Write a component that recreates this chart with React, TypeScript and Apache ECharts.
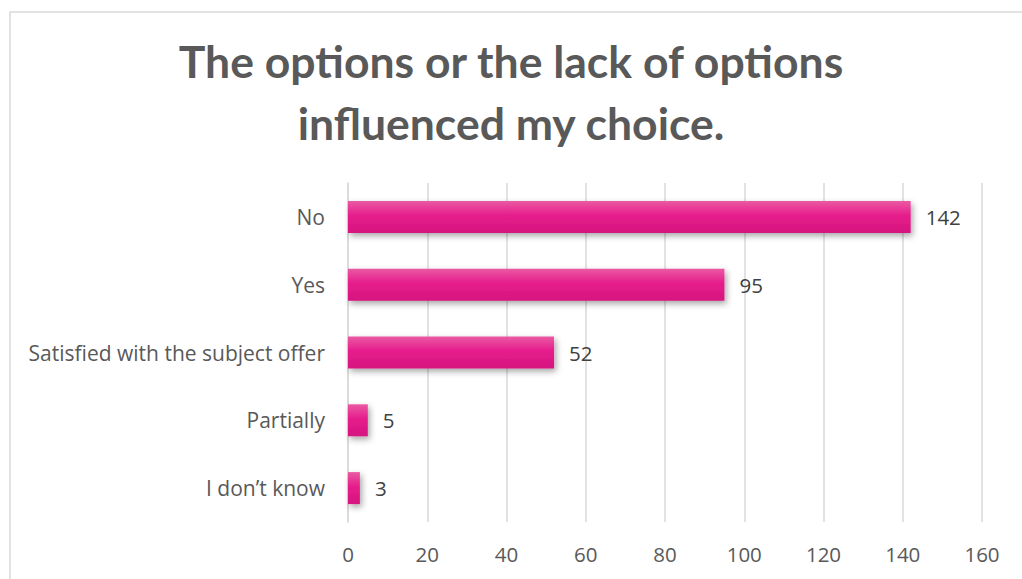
import React, { useEffect, useRef } from "react";
import * as echarts from "echarts";

const titleLines = ["The options or the lack of options", "influenced my choice."];
const categories = ["No", "Yes", "Satisfied with the subject offer", "Partially", "I don\u2019t know"];
const values = [142, 95, 52, 5, 3];
const axisMin = 0;
const axisMax = 160;
const axisInterval = 20;

const bodyFont = "'Open Sans', Lato, sans-serif";

export default function App() {
  const ref = useRef<HTMLDivElement>(null);
  useEffect(() => {
    if (!ref.current) return;
    const chart = echarts.init(ref.current, null, { renderer: "svg" });
    chart.setOption({
      animation: false,
      backgroundColor: "#ffffff",
      title: {
        text: titleLines.join("\n"),
        left: "center",
        top: 24,
        textStyle: {
          fontFamily: "Lato, sans-serif",
          fontWeight: "bold",
          fontSize: 44.5,
          lineHeight: 62,
          color: "#595959",
        },
      },
      graphic: [
        {
          type: "rect",
          shape: { x: 10, y: 12, width: 1040, height: 620 },
          style: { fill: "none", stroke: "#d9d9d9", lineWidth: 1.5 },
          silent: true,
          z: -1,
        },
      ],
      grid: { left: 348, right: 40, top: 183, bottom: 57, containLabel: false },
      xAxis: {
        type: "value",
        min: axisMin,
        max: axisMax,
        interval: axisInterval,
        axisLine: { show: false },
        axisTick: { show: false },
        splitLine: { show: true, lineStyle: { color: "#d9d9d9", width: 1.5 } },
        axisLabel: {
          margin: 21,
          fontFamily: bodyFont,
          fontSize: 20.5,
          color: "#595959",
        },
      },
      yAxis: {
        type: "category",
        data: categories,
        inverse: true,
        axisLine: { show: true, lineStyle: { color: "#d9d9d9", width: 1.5 } },
        axisTick: { show: false },
        axisLabel: {
          margin: 23,
          fontFamily: bodyFont,
          fontSize: 21,
          color: "#595959",
        },
      },
      series: [
        {
          type: "bar",
          data: values,
          barWidth: 32,
          itemStyle: {
            color: new echarts.graphic.LinearGradient(0, 0, 0, 1, [
              { offset: 0, color: "#ea5aa3" },
              { offset: 0.45, color: "#e61d8c" },
              { offset: 1, color: "#d6157f" },
            ]),
            shadowColor: "rgba(0,0,0,0.35)",
            shadowBlur: 6,
            shadowOffsetX: 2,
            shadowOffsetY: 3,
          },
          label: {
            show: true,
            position: "right",
            distance: 15,
            fontFamily: bodyFont,
            fontSize: 20.5,
            color: "#404040",
          },
        },
      ],
    });
    return () => chart.dispose();
  }, []);
  return (
    <div
      ref={ref}
      style={{ position: "fixed", left: 0, top: 0, width: 1022, height: 579 }}
    />
  );
}
